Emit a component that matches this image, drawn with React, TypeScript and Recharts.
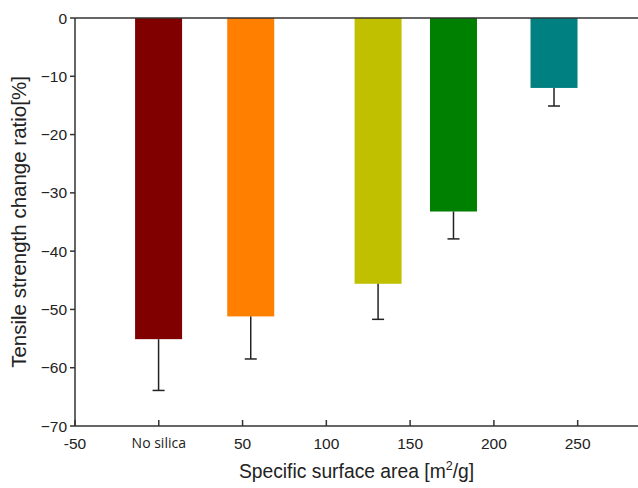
import React from 'react';
import { BarChart, Bar, XAxis, YAxis, Cell, ReferenceLine, Label } from 'recharts';

const surfaceAreas = [0, 55, 131, 176, 236];
const changeRatio = [-55.1, -51.2, -45.6, -33.2, -12.0];
const stdDev = [8.8, 7.3, 6.1, 4.7, 3.1];
const barColors = ['#800000', '#FF8000', '#C0C000', '#008000', '#008080'];
const xTicks = [-50, 0, 50, 100, 150, 200, 250];
const yTicks = [-70, -60, -50, -40, -30, -20, -10, 0];

const data = surfaceAreas.map((x, i) => ({ x, value: changeRatio[i], err: stdDev[i] }));

const FONT = '"Liberation Sans", Arial, sans-serif';

const BarWithError = (props: any) => {
  const { x, y, width, height, fill, payload } = props;
  const top = Math.min(y, y + height);
  const h = Math.abs(height);
  const bottom = top + h;
  const pxPerUnit = h / Math.abs(payload.value);
  const errEnd = bottom + payload.err * pxPerUnit;
  const cx = x + width / 2;
  return (
    <g>
      <rect x={x} y={top} width={width} height={h} fill={fill} />
      <line x1={cx} y1={bottom} x2={cx} y2={errEnd} stroke="#222" strokeWidth={1.5} />
      <line x1={cx - 6} y1={errEnd} x2={cx + 6} y2={errEnd} stroke="#222" strokeWidth={1.5} />
    </g>
  );
};

const XTick = (props: any) => {
  const { x, y, payload } = props;
  const isZero = payload.value === 0;
  return (
    <text
      x={x}
      y={y}
      dy="0.71em"
      textAnchor="middle"
      fill="#222"
      fontSize={isZero ? 14 : 15.5}
      fontFamily={isZero ? '"Open Sans", "Noto Sans", sans-serif' : FONT}
    >
      {isZero ? 'No silica' : String(payload.value)}
    </text>
  );
};

const XTitle = (props: any) => {
  const { viewBox } = props;
  const cx = viewBox.x + viewBox.width / 2;
  return (
    <text x={cx} y={viewBox.y + 52} textAnchor="middle" fontSize={19.3} fontFamily={FONT} fill="#222">
      Specific surface area [m
      <tspan dy={-8} fontSize={12.5}>2</tspan>
      <tspan dy={8}>/g]</tspan>
    </text>
  );
};

export default function App() {
  return (
    <div style={{ position: 'absolute', left: 0, top: 0 }}>
      <BarChart
        width={638}
        height={488}
        data={data}
        margin={{ top: 18, right: 0, bottom: 32, left: 0 }}
      >
        <XAxis
          dataKey="x"
          type="number"
          domain={[-50, 286]}
          ticks={xTicks}
          allowDataOverflow
          tick={<XTick />}
          tickSize={-6}
          tickMargin={18}
          height={30}
          axisLine={{ stroke: '#333', strokeWidth: 1.5 }}
          tickLine={{ stroke: '#333', strokeWidth: 1.5 }}
        >
          <Label content={<XTitle />} />
        </XAxis>
        <YAxis
          type="number"
          domain={[-70, 0]}
          ticks={yTicks}
          width={75}
          tickSize={5}
          tickMargin={3}
          tickFormatter={(v: number) => (v < 0 ? '\u2212' + Math.abs(v) : String(v))}
          tick={{ fontSize: 15.5, fontFamily: FONT, fill: '#222' }}
          axisLine={{ stroke: '#333', strokeWidth: 1.5 }}
          tickLine={{ stroke: '#333', strokeWidth: 1.5 }}
        >
          <Label
            value="Tensile strength change ratio[%]"
            angle={-90}
            position="insideLeft"
            offset={19}
            style={{ textAnchor: 'middle', fontSize: 20.5, fontFamily: FONT, fill: '#222' }}
          />
        </YAxis>
        <Bar dataKey="value" barSize={47} isAnimationActive={false} shape={<BarWithError />}>
          {data.map((d, i) => (
            <Cell key={i} fill={barColors[i]} />
          ))}
        </Bar>
        <ReferenceLine y={0} stroke="#333" strokeWidth={1.5} />
      </BarChart>
    </div>
  );
}
